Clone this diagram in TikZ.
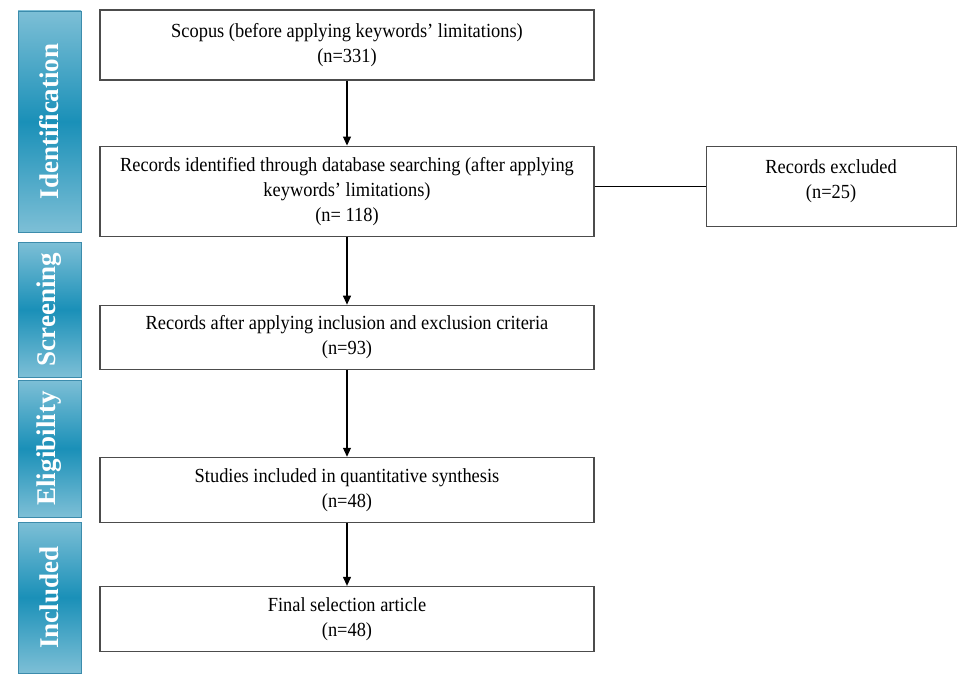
\documentclass[tikz,border=0pt]{standalone}
\usepackage{fontspec}
\setmainfont{Liberation Serif}[FakeStretch=0.92]
\newfontfamily\tabfont{Liberation Serif}
\usepackage{xcolor}
\usepackage{tikz}
\usetikzlibrary{arrows.meta,positioning}

\definecolor{tabmid}{HTML}{1A90B8}
\definecolor{tabedge}{HTML}{7DBFD6}
\definecolor{tabline}{HTML}{3C8CAC}

\begin{document}
\begin{tikzpicture}[
        x=1pt, y=-1pt,
        font=\fontsize{20}{25}\selectfont,
        box/.style={
            draw=black!70, line width=1.1pt,
            minimum width=494pt,
            align=center,
            inner sep=4pt
        },
        tab/.style={
            draw=tabline, line width=0.8pt,
            top color=tabedge, bottom color=tabedge, middle color=tabmid,
            minimum width=63pt,
            text=white, font=\tabfont\fontsize{27}{27}\selectfont\bfseries,
            inner sep=0pt
        },
        arrow/.style={-{Triangle[length=9pt,width=8pt]}, line width=1.1pt},
        link/.style={line width=1.1pt}
    ]
    \useasboundingbox (0,0) rectangle (958,677);

    % Stage tabs
    \node[tab, minimum height=221pt] (ident) at (49.5,121.5) {\rotatebox{90}{Identification}};
    \node[tab, minimum height=135pt] (screen) at (49.5,309.5) {\rotatebox{90}{Screening}};
    \node[tab, minimum height=137pt] (elig) at (49.5,448.5) {\rotatebox{90}{Eligibility}};
    \node[tab, minimum height=151pt] (incl) at (49.5,597.5) {\rotatebox{90}{Included}};

    % Flow boxes
    \node[box, minimum height=70pt] (scopus) at (347,45) {Scopus (before applying keywords’ limitations)\\(n=331)};
    \node[box, minimum height=90pt, below=65pt of scopus] (records) {Records identified through database searching (after applying\\keywords’ limitations)\\(n= 118)};
    \node[box, minimum width=250pt, minimum height=80pt, text depth=14pt, right=111pt of records, yshift=5pt] (excluded) {Records excluded\\(n=25)};
    \node[box, minimum height=64pt, below=68pt of records] (criteria) {Records after applying inclusion and exclusion criteria\\(n=93)};
    \node[box, minimum height=65pt, below=87pt of criteria] (studies) {Studies included in quantitative synthesis\\(n=48)};
    \node[box, minimum height=65pt, below=63pt of studies] (final) {Final selection article\\(n=48)};

    % Arrows
    \draw[arrow] (scopus) -- (records);
    \draw[link] (records.east |- excluded.west) -- (excluded.west);
    \draw[arrow] (records) -- (criteria);
    \draw[arrow] (criteria) -- (studies);
    \draw[arrow] (studies) -- (final);

\end{tikzpicture}
\end{document}
